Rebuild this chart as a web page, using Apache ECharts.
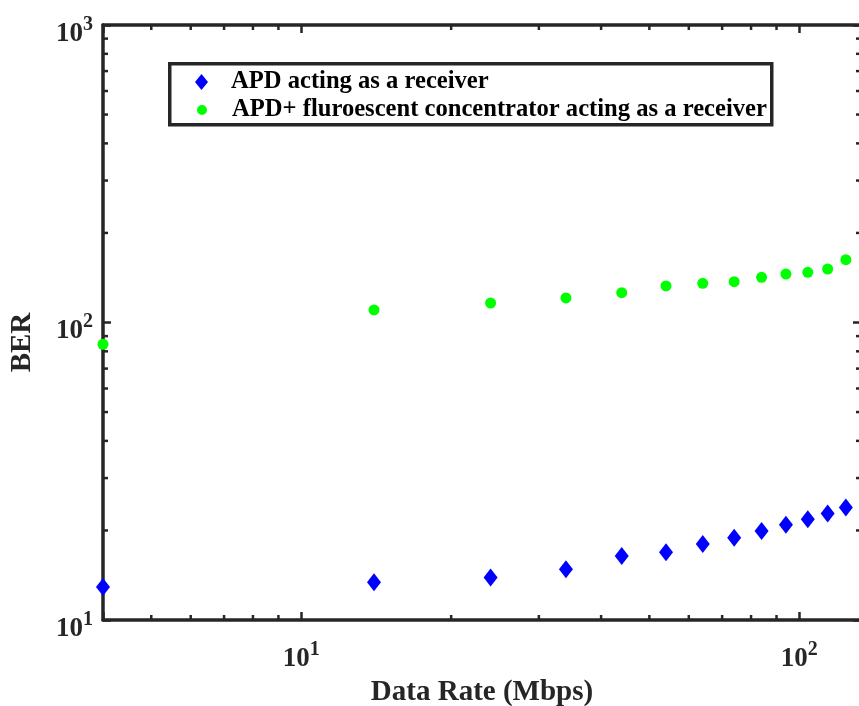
<!DOCTYPE html>
<html>
<head>
<meta charset="utf-8">
<script src="https://cdn.jsdelivr.net/npm/echarts@6/dist/echarts.min.js"></script>
<style>
  html, body { margin: 0; padding: 0; background: #ffffff; }
  #chart { width: 859px; height: 706px; }
</style>
</head>
<body>
<div id="chart"></div>
<script>
// Measured BER against data rate for the two receiver set-ups
const dataRate = [4, 14, 24, 34, 44, 54, 64, 74, 84, 94, 104, 114, 124];
const berApd = [12.9, 13.4, 13.9, 14.8, 16.4, 16.9, 18.0, 18.9, 19.9, 20.9, 21.8, 22.8, 23.9];
const berApdConcentrator = [84.5, 110.2, 116.3, 120.9, 126.0, 132.7, 135.4, 137.1, 141.9, 145.5, 147.5, 151.3, 162.6];
const seriesNames = ['APD acting as a receiver', 'APD+ fluroescent concentrator acting as a receiver'];

// Axis ranges and minor tick values (log axes)
const xRange = [4, 133];
const yRange = [10, 1000];
const xMinorTicks = [5, 6, 7, 8, 9, 20, 30, 40, 50, 60, 70, 80, 90];
const yMinorTicks = [20, 30, 40, 50, 60, 70, 80, 90, 200, 300, 400, 500, 600, 700, 800, 900];

const axisColor = '#262626';
const fontFamily = '"Liberation Serif", "Times New Roman", serif';

function powerLabel(value) {
  const e = Math.log10(value);
  if (Math.abs(e - Math.round(e)) > 1e-6) return '';
  return '{b|10}{s|' + Math.round(e) + '}';
}

const labelRich = {
  b: { fontFamily, fontWeight: 'bold', fontSize: 27, lineHeight: 37, verticalAlign: 'bottom', color: axisColor },
  s: { fontFamily, fontWeight: 'bold', fontSize: 20, lineHeight: 20, verticalAlign: 'top', padding: [4, 0, 0, 0], color: axisColor }
};

function logAxis(extra) {
  return Object.assign({
    type: 'log',
    logBase: 10,
    axisLine: { show: true, onZero: false, lineStyle: { color: axisColor, width: 3.5 } },
    axisTick: { show: true, inside: true, length: 8, lineStyle: { color: axisColor, width: 2.5 } },
    minorTick: { show: false },
    splitLine: { show: false },
    minorSplitLine: { show: false },
    axisLabel: { show: false }
  }, extra);
}

// Short inner ticks at 2..9 of every decade, on both opposite axes
function minorTickSeries(values, dir) {
  return {
    type: 'custom',
    coordinateSystem: 'cartesian2d',
    xAxisIndex: 0,
    yAxisIndex: 0,
    clip: false,
    silent: true,
    z: 3,
    data: values.map(v => dir === 'x' ? [v, yRange[0]] : [xRange[0], v]),
    renderItem: function (params, api) {
      const v = api.value(dir === 'x' ? 0 : 1);
      const len = 5;
      const style = { stroke: axisColor, lineWidth: 2.5 };
      if (dir === 'x') {
        const b = api.coord([v, yRange[0]]);
        const t = api.coord([v, yRange[1]]);
        return { type: 'group', children: [
          { type: 'line', shape: { x1: b[0], y1: b[1], x2: b[0], y2: b[1] - len }, style },
          { type: 'line', shape: { x1: t[0], y1: t[1], x2: t[0], y2: t[1] + len }, style }
        ]};
      }
      const l = api.coord([xRange[0], v]);
      const r = api.coord([xRange[1], v]);
      return { type: 'group', children: [
        { type: 'line', shape: { x1: l[0], y1: l[1], x2: l[0] + len, y2: l[1] }, style },
        { type: 'line', shape: { x1: r[0], y1: r[1], x2: r[0] - len, y2: r[1] }, style }
      ]};
    }
  };
}

const legendText = {
  fontFamily, fontWeight: 'bold', fontSize: 24.6, lineHeight: 28, color: '#000000'
};

const chart = echarts.init(document.getElementById('chart'), null, { renderer: 'canvas' });
chart.setOption({
  backgroundColor: '#ffffff',
  animation: false,
  grid: { left: 103, right: -2, top: 25, bottom: 86, containLabel: false, outerBoundsMode: 'none' },
  xAxis: [
    logAxis({
      position: 'bottom', min: xRange[0], max: xRange[1],
      axisLabel: { show: true, margin: 16, formatter: powerLabel, rich: labelRich, showMinLabel: true, showMaxLabel: true, hideOverlap: false },
      name: 'Data Rate (Mbps)', nameLocation: 'middle', nameGap: 50,
      nameTextStyle: { fontFamily, fontWeight: 'bold', fontSize: 29, color: axisColor }
    }),
    logAxis({ position: 'top', min: xRange[0], max: xRange[1] })
  ],
  yAxis: [
    logAxis({
      position: 'left', min: yRange[0], max: yRange[1],
      axisLabel: { show: true, margin: 10, padding: [8, 0, 0, 0], formatter: powerLabel, rich: labelRich, showMinLabel: true, showMaxLabel: true, hideOverlap: false },
      name: 'BER', nameLocation: 'middle', nameGap: 66, nameRotate: 90,
      nameTextStyle: { fontFamily, fontWeight: 'bold', fontSize: 29, color: axisColor, padding: [0, 40, 0, 0] }
    }),
    logAxis({ position: 'right', min: yRange[0], max: yRange[1] })
  ],
  legend: [
    {
      data: [{ name: seriesNames[0], icon: 'diamond' }],
      left: 195, top: 68, padding: 0,
      itemWidth: 13, itemHeight: 16, itemGap: 0,
      selectedMode: false, z: 6,
      textStyle: Object.assign({ padding: [0, 0, 0, 18] }, legendText)
    },
    {
      data: [{ name: seriesNames[1], icon: 'circle' }],
      left: 197, top: 96, padding: 0,
      itemWidth: 10, itemHeight: 10, itemGap: 0,
      selectedMode: false, z: 6,
      textStyle: Object.assign({ padding: [0, 0, 0, 20] }, legendText)
    }
  ],
  graphic: [
    {
      type: 'rect', left: 168, top: 62, z: 5,
      shape: { width: 602, height: 61 },
      style: { fill: '#ffffff', stroke: axisColor, lineWidth: 3.5 }
    }
  ],
  series: [
    {
      name: seriesNames[0], type: 'scatter', symbol: 'diamond', symbolSize: [14, 18],
      itemStyle: { color: '#0000ff', opacity: 1 }, z: 4,
      data: dataRate.map((x, i) => [x, berApd[i]])
    },
    {
      name: seriesNames[1], type: 'scatter', symbol: 'circle', symbolSize: 11,
      itemStyle: { color: '#00ff00', opacity: 1 }, z: 4,
      data: dataRate.map((x, i) => [x, berApdConcentrator[i]])
    },
    minorTickSeries(xMinorTicks, 'x'),
    minorTickSeries(yMinorTicks, 'y')
  ]
});
</script>
</body>
</html>
